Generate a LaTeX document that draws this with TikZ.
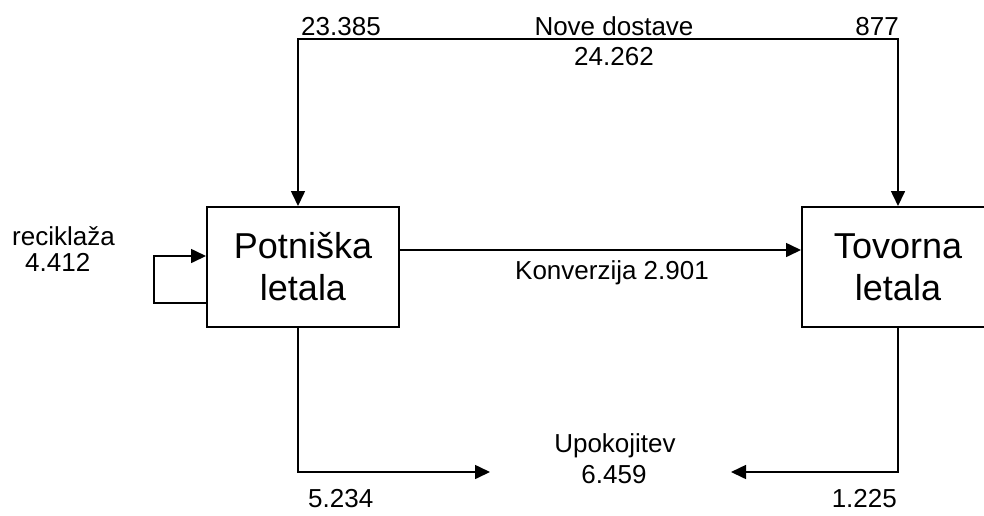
\documentclass[tikz,border=0pt]{standalone}
\usepackage{fontspec}
\setmainfont{Liberation Sans}
\usetikzlibrary{arrows.meta,calc}
\begin{document}
\begin{tikzpicture}[x=1pt,y=-1pt,
  box/.style={draw,line width=2pt,align=center,inner sep=0pt,
    minimum width=192,minimum height=120,
    font=\fontsize{36}{42}\selectfont},
  tip/.tip={Triangle[length=15pt,width=14pt]},
  flow/.style={line width=1.6pt,-tip},
  flow2/.style={line width=1.6pt,tip-tip},
  lbl/.style={font=\fontsize{26}{30}\selectfont,inner sep=0pt}]
\useasboundingbox (0,0) rectangle (984,515);
\node[box] (P) at (303,267) {Potniška\\letala};
\node[box] (T) at (898,267) {Tovorna\\letala};
% top connector
\coordinate (tl) at (298,39);
\coordinate (tr) at (898,39);
\draw[flow2] (P.north -| tl) -- (tl) -- (tr) -- (T.north -| tr);
% conversion
\coordinate (kv) at (0,250);
\draw[flow] (P.east |- kv) -- (T.west |- kv);
% recycle loop
\coordinate (rl) at (154,303);
\coordinate (ru) at (154,256);
\draw[flow] (P.west |- rl) -- (rl) -- (ru) -- (P.west |- ru);
% retirement
\coordinate (bl) at (298,472);
\coordinate (bla) at (490,472);
\coordinate (br) at (898,472);
\coordinate (bra) at (731,472);
\draw[flow] (P.south -| bl) -- (bl) -- (bla);
\draw[flow] (T.south -| br) -- (br) -- (bra);
% labels
\node[lbl,anchor=base west] (n1) at (301,35) {23.385};
\node[lbl,anchor=base] (n2) at (614,35) {Nove dostave};
\node[lbl,anchor=base east] (n3) at (899,35) {877};
\node[lbl,anchor=base] (n4) at (614,65) {24.262};
\node[lbl,anchor=base] (n5) at (612,279) {Konverzija 2.901};
\node[lbl,anchor=base west] (n6) at (12,245) {reciklaža};
\node[lbl,anchor=base west] (n7) at (25,271) {4.412};
\node[lbl,anchor=base] (n8) at (615,452) {Upokojitev};
\node[lbl,anchor=base] (n9) at (614,483) {6.459};
\node[lbl,anchor=base west] (n10) at (308,507) {5.234};
\node[lbl,anchor=base east] (n11) at (897,507) {1.225};
\end{tikzpicture}
\end{document}
